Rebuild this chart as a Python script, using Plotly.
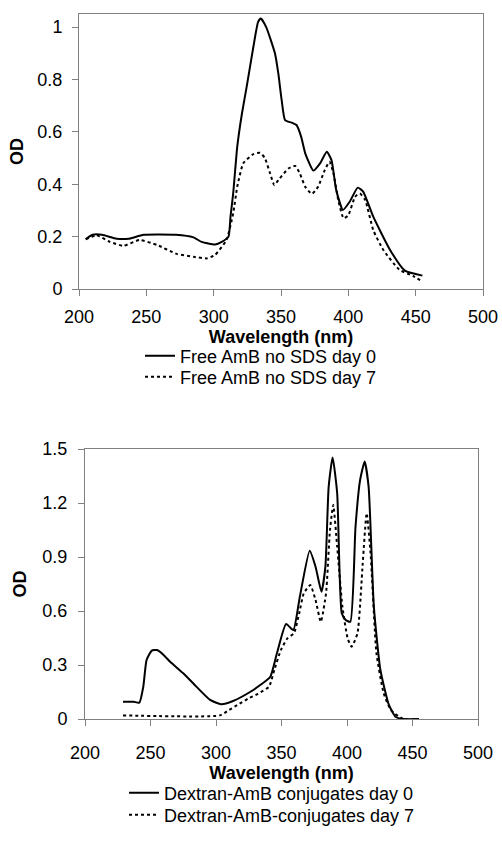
import plotly.graph_objects as go
from plotly.subplots import make_subplots

# --- data ---
free_d0_wl = [205, 210, 217, 228, 237, 248, 272, 285, 291, 301, 306, 311, 312.5, 314.5, 317.5,
              321, 324.5, 329.5, 333, 335, 339, 345.5, 348, 350.5, 353, 358, 361.5, 365, 368,
              374, 379, 384, 387.5, 391, 396, 401, 407, 411, 418.5, 431, 442, 455]
free_d0_od = [0.19, 0.207, 0.207, 0.192, 0.192, 0.207, 0.207, 0.197, 0.18, 0.17, 0.18, 0.2, 0.276,
              0.365, 0.543, 0.67, 0.772, 0.925, 1.02, 1.033, 1.0, 0.9, 0.823, 0.721, 0.645, 0.635,
              0.626, 0.581, 0.518, 0.452, 0.48, 0.524, 0.492, 0.378, 0.302, 0.333, 0.387, 0.372,
              0.276, 0.149, 0.07, 0.051]

free_d7_wl = [205, 213, 223, 233, 245, 258, 272.5, 285, 295, 301, 309.5, 314.5, 317.5, 322, 329.5,
              334.5, 338, 342, 345, 349, 355.5, 360.5, 364, 368, 373, 377.5, 382.5, 386, 389,
              392.5, 396.5, 400, 405, 408.5, 412.5, 418.5, 426, 438, 448, 455]
free_d7_od = [0.19, 0.205, 0.18, 0.165, 0.187, 0.168, 0.134, 0.123, 0.117, 0.13, 0.187, 0.289, 0.39,
              0.48, 0.515, 0.52, 0.5, 0.44, 0.397, 0.422, 0.46, 0.47, 0.441, 0.39, 0.363, 0.39,
              0.454, 0.486, 0.441, 0.34, 0.27, 0.282, 0.352, 0.365, 0.34, 0.225, 0.149, 0.073,
              0.05, 0.028]

dex_d0_wl = [229, 237, 241.5, 244.5, 247, 251, 255, 260, 265, 275, 285, 295.5, 304, 313, 326, 334,
             341.5, 346.5, 353.5, 359, 364, 371.5, 376, 380.5, 383.5, 386, 389, 392.5, 396, 399,
             402.5, 406.5, 410, 413.5, 416.5, 420.5, 425.5, 432, 437, 443, 455]
dex_d0_od = [0.096, 0.096, 0.091, 0.18, 0.328, 0.38, 0.383, 0.356, 0.318, 0.254, 0.18, 0.106, 0.082,
             0.1, 0.15, 0.19, 0.235, 0.365, 0.528, 0.494, 0.68, 0.935, 0.846, 0.707, 0.846, 1.29,
             1.453, 1.254, 0.587, 0.55, 0.54, 1.068, 1.328, 1.43, 1.29, 0.624, 0.272, 0.078,
             0.013, 0, 0]

dex_d7_wl = [229, 303, 310, 318, 325, 332, 340.5, 344.5, 349.5, 354.5, 359.5, 363.5, 367, 372, 376,
             380, 384, 387, 389.5, 392.5, 396.5, 400.5, 403.5, 408, 412, 415, 418, 422.5, 428,
             433.5, 443, 455]
dex_d7_od = [0.02, 0.02, 0.05, 0.085, 0.115, 0.14, 0.18, 0.272, 0.383, 0.448, 0.476, 0.587, 0.698,
             0.744, 0.661, 0.54, 0.698, 1.05, 1.189, 0.957, 0.624, 0.448, 0.402, 0.476, 0.865,
             1.143, 0.92, 0.365, 0.143, 0.05, 0, 0]

FONT = "Liberation Sans, Arial, sans-serif"
W, H = 502, 852

fig = make_subplots(rows=2, cols=1)

series = [
    (free_d0_wl, free_d0_od, "Free AmB no SDS day 0", "solid", 1, "legend"),
    (free_d7_wl, free_d7_od, "Free AmB no SDS day 7", "dot", 1, "legend2"),
    (dex_d0_wl, dex_d0_od, "Dextran-AmB conjugates day 0", "solid", 2, "legend3"),
    (dex_d7_wl, dex_d7_od, "Dextran-AmB-conjugates day 7", "dot", 2, "legend4"),
]
for wl, od, name, dash, row, leg in series:
    fig.add_trace(go.Scatter(
        x=wl, y=od, name=name, mode="lines",
        line=dict(color="black", width=2, dash=dash, shape="spline", smoothing=0.5),
        legend=leg,
    ), row=row, col=1)


def px_x(p):
    return p / W


def px_y(p):
    return 1 - p / H


axis_common = dict(
    showline=True, mirror=True, linecolor="#808080", linewidth=1,
    ticks="outside", ticklen=6, tickcolor="#808080",
    showgrid=False, zeroline=False, automargin=False,
    tickfont=dict(size=18, color="black", family=FONT),
)

fig.update_xaxes(axis_common)
fig.update_yaxes(axis_common)

title_font = dict(size=18, color="black", family=FONT)

fig.update_layout(
    xaxis=dict(domain=[px_x(79), px_x(483)], range=[200, 500], dtick=50, ticklabelstandoff=5,
               title=dict(text="<b>Wavelength (nm)</b>", font=title_font, standoff=3)),
    yaxis=dict(domain=[px_y(289), px_y(14)], range=[0, 1.05], dtick=0.2, ticklabelstandoff=6,
               title=dict(text="<b>OD</b>", font=title_font, standoff=9)),
    xaxis2=dict(domain=[px_x(85), px_x(478)], range=[200, 500], dtick=50, ticklabelstandoff=11,
                title=dict(text="<b>Wavelength (nm)</b>", font=title_font, standoff=3)),
    yaxis2=dict(domain=[px_y(719), px_y(449)], range=[0, 1.5], dtick=0.3, ticklabelstandoff=7,
                title=dict(text="<b>OD</b>", font=title_font, standoff=11)),
    width=W, height=H,
    margin=dict(l=0, r=0, t=0, b=0),
    paper_bgcolor="white", plot_bgcolor="white",
    font=dict(family=FONT, color="black"),
    showlegend=True,
)

leg_font = dict(size=18, color="black", family=FONT)
leg_pos = {"legend": (140, 356), "legend2": (140, 377), "legend3": (124, 793), "legend4": (124, 815)}
for key, (lx, ly) in leg_pos.items():
    fig.update_layout({key: dict(x=px_x(lx), y=px_y(ly), xanchor="left", yanchor="middle",
                                 bgcolor="rgba(0,0,0,0)", font=leg_font, borderwidth=0)})

# the page body keeps its default 8px margin otherwise
fig.write_html("out.html", config={"displayModeBar": False},
               post_script="document.body.style.margin = '0';")
